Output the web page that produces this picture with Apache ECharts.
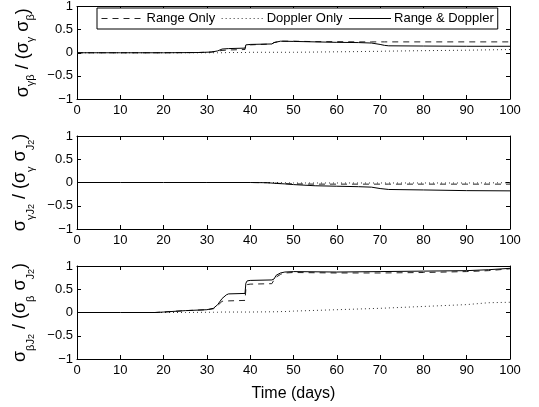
<!DOCTYPE html>
<html>
<head>
<meta charset="utf-8">
<script src="https://cdn.jsdelivr.net/npm/echarts@6/dist/echarts.min.js"></script>
<style>
  html, body { margin: 0; padding: 0; background: #fff; }
  #chart { width: 539px; height: 407px; }
</style>
</head>
<body>
<div id="chart"></div>
<script>
// tick labels
var xTicks = [0, 10, 20, 30, 40, 50, 60, 70, 80, 90, 100];
var yTicks = [-1, -0.5, 0, 0.5, 1];
var seriesNames = ['Range Only', 'Doppler Only', 'Range & Doppler'];

// panel 1 : sigma_gamma_beta
var tGB  = [0, 10, 20, 28, 31, 32.5, 33.5, 35, 38.8, 39, 40, 45, 45.5, 47, 50, 55, 60, 65, 68, 70, 71, 72, 80, 90, 100];
var gbR  = [0, 0, 0, 0.005, 0.015, 0.035, 0.05, 0.06, 0.07, 0.15, 0.17, 0.19, 0.22, 0.25, 0.25, 0.24, 0.24, 0.235, 0.235, 0.235, 0.235, 0.235, 0.235, 0.235, 0.235];
var gbD  = [0, 0, 0, 0, 0, 0, 0, 0.005, 0.005, 0.005, 0.01, 0.01, 0.01, 0.01, 0.01, 0.015, 0.02, 0.025, 0.03, 0.03, 0.035, 0.035, 0.045, 0.055, 0.07];
var gbRD = [0, 0, 0, 0.005, 0.015, 0.04, 0.08, 0.09, 0.1, 0.17, 0.18, 0.19, 0.22, 0.25, 0.245, 0.235, 0.225, 0.22, 0.21, 0.18, 0.16, 0.15, 0.145, 0.14, 0.14];

// panel 2 : sigma_gamma_J2
var tGJ  = [0, 10, 20, 30, 40, 44, 46, 48, 50, 55, 60, 65, 68, 70, 72, 80, 90, 100];
var gjR  = [0, 0, 0, 0, 0, -0.005, -0.015, -0.025, -0.03, -0.035, -0.035, -0.035, -0.035, -0.035, -0.035, -0.035, -0.035, -0.035];
var gjD  = [0, 0, 0, 0, 0, 0, 0, -0.005, -0.01, -0.01, -0.01, -0.01, -0.01, -0.01, -0.01, -0.01, -0.01, -0.005];
var gjRD = [0, 0, 0, 0, 0, -0.005, -0.02, -0.03, -0.045, -0.07, -0.08, -0.09, -0.1, -0.13, -0.15, -0.16, -0.175, -0.18];

// panel 3 : sigma_beta_J2
var tBJ  = [0, 10, 18, 20, 25, 30, 31.5, 32.5, 33.5, 34.5, 35, 38.8, 39, 39.3, 40, 45, 45.5, 46, 47, 48, 50, 60, 70, 80, 90, 95, 100];
var bjR  = [0, 0, 0, 0.01, 0.04, 0.06, 0.08, 0.15, 0.24, 0.25, 0.25, 0.26, 0.5, 0.6, 0.61, 0.62, 0.7, 0.76, 0.82, 0.85, 0.86, 0.85, 0.85, 0.86, 0.88, 0.9, 0.94];
var bjD  = [0, 0, 0, 0, 0, 0.005, 0.005, 0.005, 0.01, 0.01, 0.01, 0.01, 0.01, 0.01, 0.01, 0.015, 0.015, 0.015, 0.02, 0.02, 0.03, 0.06, 0.09, 0.13, 0.17, 0.21, 0.22];
var bjRD = [0, 0, 0, 0.01, 0.04, 0.06, 0.09, 0.17, 0.3, 0.38, 0.4, 0.41, 0.63, 0.68, 0.69, 0.7, 0.72, 0.8, 0.85, 0.87, 0.88, 0.87, 0.88, 0.89, 0.9, 0.92, 0.95];

var panels = [
  { t: tGB, r: gbR, d: gbD, rd: gbRD, top: 6,
    name: '{s|σ}{sub|γβ}{s| / (σ}{sub|γ}{s| σ}{sub|β}{s|)}' },
  { t: tGJ, r: gjR, d: gjD, rd: gjRD, top: 136,
    name: '{s|σ}{sub|γJ}{sub2|2}{s| / (σ}{sub|γ}{s| σ}{sub|J}{sub2|2}{s|)}' },
  { t: tBJ, r: bjR, d: bjD, rd: bjRD, top: 266,
    name: '{s|σ}{sub|βJ}{sub2|2}{s| / (σ}{sub|β}{s| σ}{sub|J}{sub2|2}{s|)}' }
];

var FONT = 'Liberation Sans, Arial, sans-serif';

function pairs(t, v) {
  var out = [];
  for (var i = 0; i < t.length; i++) out.push([t[i], v[i]]);
  return out;
}

var grids = [], xAxes = [], yAxes = [], series = [];

panels.forEach(function(p, i) {
  grids.push({ left: 77, right: 29, top: p.top, height: 93, show: false });

  // bottom axis with labels
  xAxes.push({
    type: 'value', gridIndex: i, min: 0, max: 100, interval: 10, position: 'bottom',
    axisLine: { show: true, onZero: false, lineStyle: { color: '#000', width: 1 } },
    axisTick: { show: true, inside: true, length: 4, lineStyle: { color: '#000' } },
    axisLabel: { color: '#000', fontSize: 13, fontFamily: FONT, margin: 5 },
    splitLine: { show: false },
    name: i === 2 ? 'Time (days)' : '',
    nameLocation: 'middle', nameGap: 27,
    nameTextStyle: { color: '#000', fontSize: 16, fontFamily: FONT }
  });
  // top axis (ticks only)
  xAxes.push({
    type: 'value', gridIndex: i, min: 0, max: 100, interval: 10, position: 'top',
    axisLine: { show: true, onZero: false, lineStyle: { color: '#000', width: 1 } },
    axisTick: { show: true, inside: true, length: 4, lineStyle: { color: '#000' } },
    axisLabel: { show: false }, splitLine: { show: false }
  });
  // left axis with labels
  yAxes.push({
    type: 'value', gridIndex: i, min: -1, max: 1, interval: 0.5, position: 'left',
    axisLine: { show: true, onZero: false, lineStyle: { color: '#000', width: 1 } },
    axisTick: { show: true, inside: true, length: 4, lineStyle: { color: '#000' } },
    axisLabel: {
      color: '#000', fontSize: 13, fontFamily: FONT, margin: 4,
      formatter: function(v) { return String(v).replace('-', '\u2212'); }
    },
    splitLine: { show: false },
    name: p.name, nameLocation: 'middle', nameRotate: 90, nameGap: 40,
    nameTextStyle: {
      color: '#000', fontFamily: FONT,
      rich: {
        s: { fontSize: 18, fontFamily: FONT, color: '#000', lineHeight: 24, verticalAlign: 'middle' },
        sub: { fontSize: 11, fontFamily: FONT, color: '#000', lineHeight: 26, verticalAlign: 'bottom' },
        sub2: { fontSize: 9, fontFamily: FONT, color: '#000', lineHeight: 32, verticalAlign: 'bottom' }
      }
    }
  });
  // right axis (ticks only)
  yAxes.push({
    type: 'value', gridIndex: i, min: -1, max: 1, interval: 0.5, position: 'right',
    axisLine: { show: true, onZero: false, lineStyle: { color: '#000', width: 1 } },
    axisTick: { show: true, inside: true, length: 4, lineStyle: { color: '#000' } },
    axisLabel: { show: false }, splitLine: { show: false }
  });

  var base = { type: 'line', xAxisIndex: i * 2, yAxisIndex: i * 2, symbol: 'none', silent: true, animation: false };
  series.push(Object.assign({}, base, {
    name: seriesNames[0], data: pairs(p.t, p.r), z: 3,
    lineStyle: { color: '#222', width: 1, type: [6, 5] }, itemStyle: { color: '#222' }
  }));
  series.push(Object.assign({}, base, {
    name: seriesNames[1], data: pairs(p.t, p.d), z: 2,
    lineStyle: { color: '#333', width: 1, type: [1, 3] }, itemStyle: { color: '#333' }
  }));
  series.push(Object.assign({}, base, {
    name: seriesNames[2], data: pairs(p.t, p.rd), z: 4,
    lineStyle: { color: '#000', width: 1, type: 'solid' }, itemStyle: { color: '#000' }
  }));
});

var chart = echarts.init(document.getElementById('chart'));
chart.setOption({
  animation: false,
  backgroundColor: '#fff',
  legend: {
    data: seriesNames,
    left: 97, top: 8,
    padding: [4, 4, 4, 4],
    itemGap: 6,
    itemWidth: 42, itemHeight: 10,
    itemStyle: { opacity: 0, borderWidth: 0 },
    lineStyle: { width: 1 },
    backgroundColor: '#fff',
    borderColor: '#000', borderWidth: 1, borderRadius: 0,
    textStyle: { color: '#000', fontSize: 13, fontFamily: FONT, padding: [0, 0, 0, -2] },
    z: 10
  },
  grid: grids,
  xAxis: xAxes,
  yAxis: yAxes,
  series: series
});
</script>
</body>
</html>
